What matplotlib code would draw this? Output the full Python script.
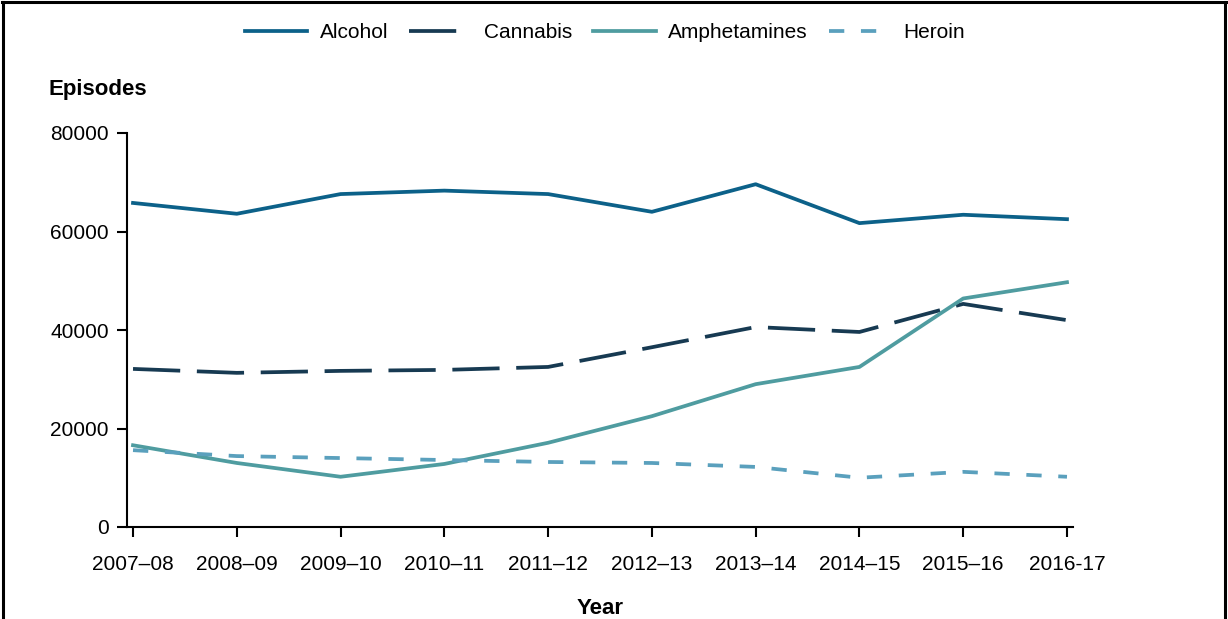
import matplotlib
matplotlib.use("Agg")
import matplotlib.pyplot as plt
from matplotlib.lines import Line2D

plt.rcParams['font.family'] = ['Liberation Sans', 'DejaVu Sans']
plt.rcParams['lines.scale_dashes'] = False

years = ["2007–08", "2008–09", "2009–10", "2010–11", "2011–12",
         "2012–13", "2013–14", "2014–15", "2015–16", "2016-17"]
alcohol = [65800, 63600, 67600, 68300, 67600, 64000, 69600, 61700, 63400, 62500]
cannabis = [32100, 31300, 31700, 31900, 32500, 36500, 40600, 39600, 45300, 42000]
amphetamines = [16600, 13000, 10200, 12800, 17100, 22500, 29000, 32500, 46400, 49700]
heroin = [15600, 14400, 14000, 13600, 13200, 13000, 12200, 10000, 11200, 10200]

series = [
    ("Alcohol", alcohol, "#0c6189", (None, None)),
    ("Cannabis", cannabis, "#173a52", (0, (34, 12))),
    ("Amphetamines", amphetamines, "#4f9ca0", (None, None)),
    ("Heroin", heroin, "#5aa0bd", (0, (11, 12))),
]

fig = plt.figure(figsize=(12.28, 6.19), dpi=100)
ax = fig.add_axes([127/1228, 1-527/619, (1073-127)/1228, (527-133)/619])

x = list(range(len(years)))
handles = []
for name, vals, col, ls in series:
    if ls[0] is None:
        l, = ax.plot(x, vals, color=col, lw=2.7, label=name)
    else:
        l, = ax.plot(x, vals, color=col, lw=2.7, linestyle=ls, label=name)
    handles.append(l)

ax.set_ylim(0, 80000)
ax.set_xlim(-0.058, 9.058)
ax.set_yticks([0, 20000, 40000, 60000, 80000])
ax.set_yticklabels(["0", "20000", "40000", "60000", "80000"])
ax.set_xticks(x)
ax.set_xticklabels(years)
for s in ["top", "right"]:
    ax.spines[s].set_visible(False)
for s in ["left", "bottom"]:
    ax.spines[s].set_linewidth(1.5)
ax.tick_params(axis='both', labelsize=15, width=1.5, length=7, direction='out')
ax.tick_params(axis='x', pad=13)
ax.tick_params(axis='y', pad=6)

fig.text(49/1228, 1-90/619, "Episodes", fontsize=16, fontweight='bold', va='center', ha='left')
fig.text(600/1228, 1-608/619, "Year", fontsize=16, fontweight='bold', va='center', ha='center')

fig.legend(handles=handles, loc='center', bbox_to_anchor=(605/1228, 1-33/619), ncol=4,
           frameon=False, fontsize=15, handlelength=3.0, handletextpad=0.6,
           columnspacing=1.0)

# figure border (top, left, right)
for xs, ys in [([2/1228, 1226/1228], [1-1.5/619, 1-1.5/619]),
               ([2.5/1228, 2.5/1228], [0, 1-1.5/619]),
               ([1224.5/1228, 1224.5/1228], [0, 1-1.5/619])]:
    fig.add_artist(Line2D(xs, ys, transform=fig.transFigure, color='black', lw=2.2))

fig.savefig("out.png", dpi=100)
